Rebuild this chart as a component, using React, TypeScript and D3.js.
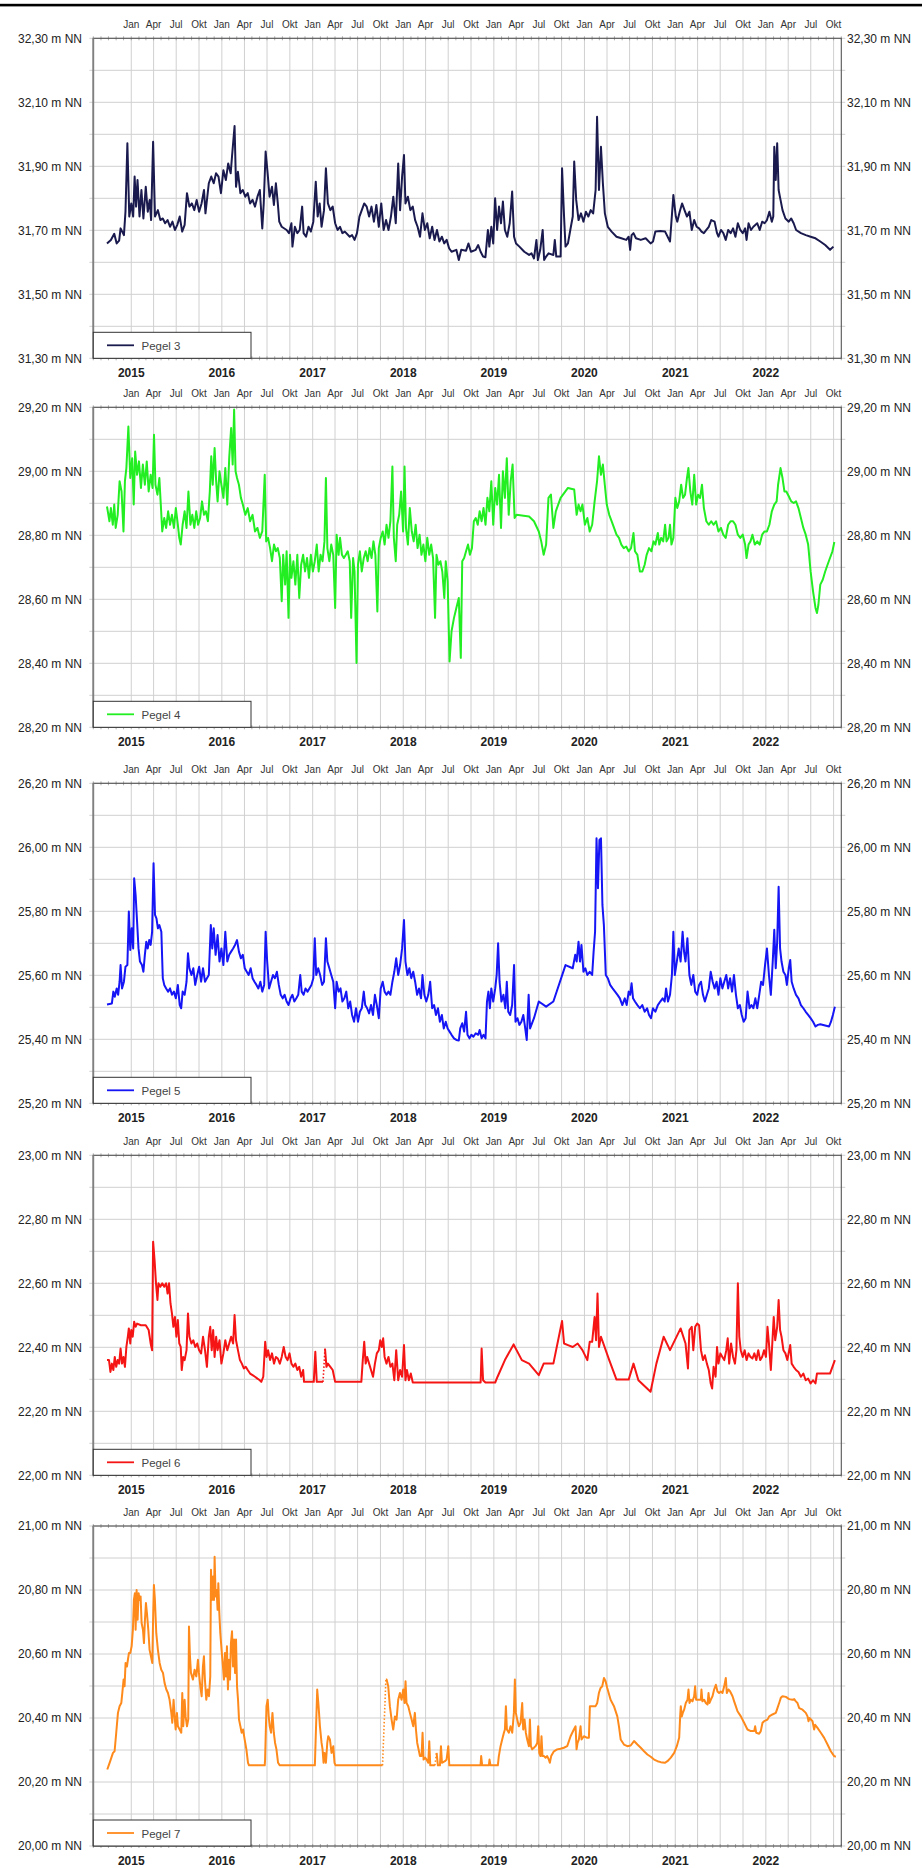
import React from "react";
import * as d3 from "d3";

type Pt = [number, number | null];

// decimal year, water level (m NN)
const pegel3: Pt[] = [[2014.732,31.659],[2014.775,31.670],[2014.812,31.689],[2014.839,31.659],[2014.866,31.668],[2014.882,31.706],[2014.919,31.685],[2014.936,31.758],[2014.957,31.972],[2014.978,31.743],[2015.000,31.784],[2015.021,31.743],[2015.037,31.868],[2015.053,31.774],[2015.069,31.857],[2015.091,31.743],[2015.112,31.826],[2015.134,31.737],[2015.160,31.836],[2015.182,31.758],[2015.203,31.795],[2015.219,31.732],[2015.241,31.977],[2015.262,31.743],[2015.294,31.763],[2015.321,31.732],[2015.348,31.737],[2015.374,31.722],[2015.401,31.732],[2015.428,31.711],[2015.455,31.727],[2015.482,31.701],[2015.508,31.717],[2015.535,31.743],[2015.562,31.696],[2015.589,31.717],[2015.615,31.816],[2015.642,31.774],[2015.669,31.784],[2015.696,31.763],[2015.722,31.795],[2015.749,31.758],[2015.776,31.784],[2015.803,31.826],[2015.819,31.753],[2015.856,31.847],[2015.883,31.868],[2015.910,31.847],[2015.936,31.878],[2015.963,31.868],[2015.990,31.816],[2016.017,31.888],[2016.044,31.857],[2016.070,31.909],[2016.097,31.878],[2016.113,31.935],[2016.140,32.026],[2016.156,31.836],[2016.177,31.883],[2016.204,31.816],[2016.231,31.826],[2016.258,31.805],[2016.285,31.816],[2016.311,31.784],[2016.338,31.795],[2016.365,31.774],[2016.392,31.805],[2016.418,31.826],[2016.445,31.706],[2016.461,31.784],[2016.482,31.946],[2016.504,31.878],[2016.525,31.805],[2016.552,31.836],[2016.573,31.779],[2016.595,31.847],[2016.616,31.784],[2016.632,31.727],[2016.659,31.711],[2016.713,31.701],[2016.739,31.691],[2016.766,31.722],[2016.777,31.649],[2016.804,31.711],[2016.831,31.691],[2016.857,31.701],[2016.884,31.774],[2016.900,31.691],[2016.927,31.680],[2016.954,31.711],[2016.980,31.696],[2017.007,31.727],[2017.034,31.852],[2017.055,31.743],[2017.077,31.784],[2017.098,31.711],[2017.125,31.763],[2017.146,31.894],[2017.168,31.784],[2017.195,31.763],[2017.221,31.774],[2017.248,31.722],[2017.275,31.701],[2017.302,31.711],[2017.328,31.691],[2017.355,31.696],[2017.409,31.680],[2017.435,31.685],[2017.462,31.670],[2017.489,31.691],[2017.516,31.743],[2017.542,31.763],[2017.569,31.784],[2017.596,31.774],[2017.623,31.743],[2017.649,31.774],[2017.676,31.727],[2017.703,31.779],[2017.730,31.711],[2017.757,31.784],[2017.783,31.701],[2017.810,31.732],[2017.837,31.701],[2017.864,31.743],[2017.890,31.805],[2017.917,31.722],[2017.944,31.909],[2017.965,31.763],[2017.987,31.868],[2018.008,31.935],[2018.024,31.784],[2018.051,31.805],[2018.078,31.763],[2018.105,31.774],[2018.131,31.732],[2018.158,31.711],[2018.185,31.680],[2018.212,31.753],[2018.238,31.701],[2018.265,31.722],[2018.292,31.675],[2018.319,31.711],[2018.345,31.670],[2018.372,31.701],[2018.399,31.665],[2018.426,31.680],[2018.452,31.659],[2018.479,31.670],[2018.506,31.644],[2018.533,31.633],[2018.586,31.639],[2018.613,31.607],[2018.640,31.639],[2018.693,31.636],[2018.720,31.659],[2018.747,31.633],[2018.800,31.639],[2018.827,31.654],[2018.854,31.633],[2018.881,31.618],[2018.907,31.616],[2018.934,31.701],[2018.950,31.649],[2018.972,31.711],[2018.993,31.659],[2019.014,31.800],[2019.036,31.701],[2019.057,31.774],[2019.079,31.722],[2019.100,31.790],[2019.122,31.701],[2019.148,31.680],[2019.175,31.722],[2019.202,31.821],[2019.223,31.680],[2019.245,31.659],[2019.282,31.649],[2019.336,31.633],[2019.389,31.623],[2019.416,31.628],[2019.443,31.612],[2019.470,31.670],[2019.486,31.607],[2019.512,31.639],[2019.539,31.701],[2019.555,31.607],[2019.577,31.618],[2019.604,31.628],[2019.657,31.623],[2019.673,31.670],[2019.689,31.618],[2019.737,31.618],[2019.753,31.894],[2019.775,31.743],[2019.791,31.649],[2019.818,31.659],[2019.844,31.701],[2019.871,31.743],[2019.887,31.915],[2019.909,31.795],[2019.935,31.732],[2019.962,31.753],[2019.989,31.727],[2020.016,31.758],[2020.043,31.743],[2020.069,31.763],[2020.096,31.753],[2020.123,31.826],[2020.139,32.055],[2020.160,31.826],[2020.182,31.961],[2020.203,31.847],[2020.225,31.753],[2020.257,31.711],[2020.299,31.696],[2020.353,31.680],[2020.406,31.675],[2020.460,31.670],[2020.487,31.680],[2020.503,31.639],[2020.519,31.685],[2020.540,31.691],[2020.567,31.675],[2020.620,31.670],[2020.674,31.675],[2020.728,31.659],[2020.755,31.665],[2020.781,31.696],[2020.835,31.698],[2020.888,31.696],[2020.942,31.665],[2020.979,31.810],[2021.006,31.743],[2021.022,31.727],[2021.049,31.758],[2021.075,31.784],[2021.102,31.763],[2021.129,31.743],[2021.156,31.758],[2021.182,31.701],[2021.209,31.732],[2021.236,31.711],[2021.263,31.706],[2021.290,31.696],[2021.316,31.691],[2021.343,31.701],[2021.370,31.711],[2021.397,31.732],[2021.434,31.727],[2021.461,31.691],[2021.477,31.680],[2021.504,31.701],[2021.531,31.691],[2021.557,31.670],[2021.584,31.701],[2021.611,31.691],[2021.638,31.706],[2021.664,31.680],[2021.691,31.722],[2021.718,31.701],[2021.745,31.691],[2021.771,31.706],[2021.787,31.670],[2021.809,31.722],[2021.836,31.701],[2021.862,31.711],[2021.905,31.722],[2021.932,31.701],[2021.959,31.727],[2021.986,31.722],[2022.012,31.732],[2022.039,31.758],[2022.066,31.727],[2022.082,31.743],[2022.093,31.961],[2022.109,31.857],[2022.125,31.972],[2022.141,31.826],[2022.162,31.795],[2022.184,31.763],[2022.216,31.737],[2022.253,31.727],[2022.280,31.737],[2022.307,31.722],[2022.334,31.701],[2022.387,31.691],[2022.441,31.685],[2022.494,31.680],[2022.548,31.675],[2022.601,31.665],[2022.655,31.654],[2022.709,31.639],[2022.746,31.649]];

const pegel4: Pt[] = [[2014.732,28.890],[2014.759,28.844],[2014.775,28.885],[2014.796,28.833],[2014.812,28.896],[2014.828,28.823],[2014.850,28.864],[2014.871,28.969],[2014.893,28.937],[2014.914,28.812],[2014.930,28.969],[2014.946,29.010],[2014.968,29.140],[2014.989,28.979],[2015.010,29.041],[2015.027,28.896],[2015.043,29.062],[2015.064,28.989],[2015.085,29.031],[2015.107,28.948],[2015.128,29.021],[2015.150,28.958],[2015.171,29.031],[2015.192,28.937],[2015.214,28.989],[2015.235,28.948],[2015.251,29.114],[2015.267,28.958],[2015.289,28.927],[2015.310,28.979],[2015.326,28.896],[2015.342,28.812],[2015.364,28.854],[2015.385,28.823],[2015.407,28.875],[2015.428,28.833],[2015.449,28.864],[2015.471,28.823],[2015.492,28.885],[2015.514,28.833],[2015.530,28.792],[2015.546,28.771],[2015.567,28.833],[2015.589,28.875],[2015.610,28.823],[2015.631,28.937],[2015.653,28.833],[2015.674,28.864],[2015.696,28.823],[2015.717,28.875],[2015.738,28.833],[2015.760,28.854],[2015.781,28.906],[2015.803,28.864],[2015.824,28.875],[2015.846,28.844],[2015.867,28.937],[2015.883,29.047],[2015.899,28.958],[2015.920,29.073],[2015.937,28.969],[2015.953,28.906],[2015.974,29.000],[2015.995,28.958],[2016.017,28.917],[2016.038,29.010],[2016.060,28.896],[2016.081,29.041],[2016.102,29.135],[2016.119,29.021],[2016.135,29.193],[2016.151,29.000],[2016.167,28.979],[2016.188,28.958],[2016.210,28.917],[2016.231,28.896],[2016.258,28.864],[2016.285,28.885],[2016.311,28.844],[2016.338,28.864],[2016.365,28.812],[2016.392,28.823],[2016.418,28.792],[2016.445,28.812],[2016.472,28.989],[2016.488,28.781],[2016.509,28.792],[2016.531,28.760],[2016.552,28.719],[2016.574,28.771],[2016.595,28.750],[2016.616,28.760],[2016.638,28.729],[2016.659,28.594],[2016.675,28.739],[2016.697,28.646],[2016.713,28.750],[2016.734,28.542],[2016.750,28.739],[2016.766,28.667],[2016.788,28.719],[2016.809,28.646],[2016.831,28.739],[2016.852,28.604],[2016.873,28.708],[2016.895,28.739],[2016.916,28.687],[2016.938,28.729],[2016.959,28.667],[2016.980,28.739],[2017.002,28.687],[2017.023,28.719],[2017.045,28.771],[2017.066,28.687],[2017.087,28.739],[2017.109,28.719],[2017.130,28.781],[2017.146,28.979],[2017.162,28.760],[2017.184,28.719],[2017.205,28.771],[2017.227,28.739],[2017.248,28.573],[2017.264,28.802],[2017.286,28.739],[2017.302,28.792],[2017.323,28.739],[2017.344,28.729],[2017.366,28.739],[2017.387,28.750],[2017.409,28.719],[2017.425,28.542],[2017.446,28.729],[2017.462,28.687],[2017.484,28.401],[2017.500,28.708],[2017.521,28.750],[2017.542,28.687],[2017.564,28.729],[2017.585,28.750],[2017.607,28.719],[2017.628,28.760],[2017.650,28.729],[2017.671,28.781],[2017.692,28.739],[2017.714,28.562],[2017.730,28.760],[2017.751,28.792],[2017.773,28.812],[2017.794,28.771],[2017.815,28.833],[2017.837,28.792],[2017.858,28.844],[2017.880,29.015],[2017.896,28.792],[2017.917,28.719],[2017.933,28.833],[2017.955,28.864],[2017.976,28.937],[2017.998,28.812],[2018.014,29.015],[2018.030,28.823],[2018.051,28.771],[2018.072,28.885],[2018.094,28.812],[2018.115,28.781],[2018.137,28.833],[2018.158,28.760],[2018.180,28.802],[2018.201,28.739],[2018.222,28.771],[2018.244,28.719],[2018.265,28.792],[2018.287,28.739],[2018.308,28.771],[2018.329,28.729],[2018.351,28.542],[2018.367,28.739],[2018.388,28.708],[2018.410,28.719],[2018.431,28.687],[2018.453,28.604],[2018.469,28.719],[2018.490,28.656],[2018.511,28.406],[2018.533,28.500],[2018.560,28.542],[2018.586,28.573],[2018.613,28.604],[2018.635,28.417],[2018.651,28.719],[2018.672,28.729],[2018.693,28.750],[2018.715,28.771],[2018.736,28.739],[2018.758,28.760],[2018.779,28.844],[2018.800,28.854],[2018.822,28.833],[2018.843,28.875],[2018.865,28.844],[2018.886,28.885],[2018.908,28.833],[2018.929,28.917],[2018.950,28.875],[2018.972,28.969],[2018.993,28.833],[2019.015,28.948],[2019.036,28.896],[2019.057,28.989],[2019.079,28.823],[2019.100,29.000],[2019.122,28.917],[2019.143,29.041],[2019.164,28.864],[2019.186,28.969],[2019.207,29.021],[2019.229,28.854],[2019.250,28.864],[2019.309,28.862],[2019.389,28.859],[2019.443,28.844],[2019.496,28.812],[2019.523,28.781],[2019.550,28.739],[2019.577,28.771],[2019.603,28.917],[2019.630,28.927],[2019.657,28.823],[2019.684,28.875],[2019.737,28.917],[2019.818,28.948],[2019.887,28.943],[2019.914,28.864],[2019.935,28.896],[2019.957,28.875],[2019.978,28.896],[2020.005,28.833],[2020.032,28.854],[2020.058,28.812],[2020.085,28.833],[2020.112,28.906],[2020.139,28.969],[2020.160,29.047],[2020.182,28.989],[2020.203,29.021],[2020.224,28.958],[2020.246,28.896],[2020.273,28.864],[2020.299,28.844],[2020.326,28.823],[2020.353,28.802],[2020.380,28.792],[2020.406,28.771],[2020.433,28.760],[2020.460,28.765],[2020.487,28.750],[2020.513,28.760],[2020.540,28.807],[2020.556,28.750],[2020.583,28.739],[2020.610,28.687],[2020.637,28.687],[2020.663,28.708],[2020.685,28.739],[2020.711,28.760],[2020.738,28.750],[2020.760,28.781],[2020.781,28.771],[2020.808,28.807],[2020.824,28.771],[2020.845,28.792],[2020.867,28.781],[2020.888,28.833],[2020.904,28.781],[2020.926,28.792],[2020.942,28.833],[2020.958,28.771],[2020.979,28.792],[2021.001,28.917],[2021.022,28.885],[2021.043,28.906],[2021.065,28.958],[2021.086,28.917],[2021.108,28.927],[2021.129,28.979],[2021.145,29.010],[2021.166,28.937],[2021.188,28.896],[2021.209,28.989],[2021.231,28.896],[2021.252,28.927],[2021.274,28.917],[2021.295,28.958],[2021.316,28.885],[2021.343,28.844],[2021.370,28.833],[2021.397,28.844],[2021.423,28.833],[2021.450,28.844],[2021.477,28.812],[2021.504,28.823],[2021.530,28.802],[2021.557,28.792],[2021.584,28.833],[2021.611,28.844],[2021.638,28.844],[2021.664,28.833],[2021.691,28.802],[2021.718,28.792],[2021.745,28.802],[2021.771,28.771],[2021.787,28.729],[2021.809,28.771],[2021.830,28.781],[2021.852,28.802],[2021.878,28.771],[2021.905,28.781],[2021.932,28.771],[2021.959,28.802],[2021.985,28.812],[2022.012,28.812],[2022.039,28.833],[2022.066,28.875],[2022.093,28.896],[2022.119,28.906],[2022.135,28.958],[2022.162,29.010],[2022.184,28.979],[2022.205,28.937],[2022.226,28.937],[2022.253,28.922],[2022.280,28.906],[2022.307,28.901],[2022.333,28.906],[2022.360,28.885],[2022.387,28.854],[2022.414,28.823],[2022.440,28.802],[2022.467,28.771],[2022.494,28.687],[2022.521,28.625],[2022.548,28.573],[2022.564,28.557],[2022.580,28.583],[2022.601,28.646],[2022.628,28.661],[2022.655,28.687],[2022.681,28.708],[2022.708,28.729],[2022.735,28.750],[2022.756,28.779]];

const pegel5: Pt[] = [[2014.732,25.509],[2014.786,25.512],[2014.802,25.549],[2014.818,25.533],[2014.839,25.559],[2014.855,25.539],[2014.871,25.580],[2014.882,25.632],[2014.898,25.559],[2014.919,25.580],[2014.936,25.627],[2014.957,25.632],[2014.973,25.799],[2014.989,25.679],[2015.005,25.747],[2015.021,25.684],[2015.032,25.903],[2015.048,25.851],[2015.064,25.768],[2015.080,25.684],[2015.096,25.643],[2015.118,25.632],[2015.134,25.611],[2015.150,25.664],[2015.166,25.705],[2015.182,25.684],[2015.198,25.710],[2015.214,25.695],[2015.230,25.736],[2015.246,25.950],[2015.262,25.789],[2015.278,25.778],[2015.294,25.747],[2015.310,25.757],[2015.332,25.736],[2015.348,25.591],[2015.364,25.570],[2015.385,25.559],[2015.407,25.549],[2015.428,25.559],[2015.449,25.539],[2015.471,25.549],[2015.492,25.528],[2015.514,25.570],[2015.535,25.507],[2015.551,25.497],[2015.567,25.549],[2015.589,25.539],[2015.610,25.580],[2015.626,25.669],[2015.642,25.622],[2015.664,25.601],[2015.685,25.622],[2015.706,25.570],[2015.728,25.601],[2015.749,25.627],[2015.771,25.580],[2015.792,25.622],[2015.814,25.580],[2015.835,25.591],[2015.856,25.601],[2015.878,25.757],[2015.894,25.684],[2015.910,25.747],[2015.931,25.664],[2015.953,25.726],[2015.974,25.643],[2015.995,25.684],[2016.017,25.632],[2016.038,25.736],[2016.060,25.643],[2016.081,25.664],[2016.102,25.674],[2016.124,25.684],[2016.145,25.695],[2016.167,25.710],[2016.188,25.674],[2016.210,25.653],[2016.231,25.664],[2016.252,25.622],[2016.274,25.611],[2016.295,25.601],[2016.317,25.622],[2016.338,25.591],[2016.359,25.580],[2016.381,25.570],[2016.402,25.559],[2016.424,25.580],[2016.445,25.549],[2016.466,25.570],[2016.482,25.736],[2016.499,25.643],[2016.520,25.559],[2016.541,25.580],[2016.563,25.601],[2016.584,25.591],[2016.606,25.611],[2016.627,25.570],[2016.648,25.539],[2016.670,25.528],[2016.691,25.539],[2016.713,25.518],[2016.734,25.507],[2016.756,25.528],[2016.777,25.539],[2016.798,25.518],[2016.820,25.528],[2016.841,25.539],[2016.863,25.601],[2016.879,25.549],[2016.900,25.539],[2016.921,25.559],[2016.943,25.549],[2016.964,25.559],[2016.986,25.570],[2017.007,25.591],[2017.023,25.716],[2017.039,25.601],[2017.061,25.622],[2017.082,25.601],[2017.104,25.570],[2017.125,25.580],[2017.146,25.716],[2017.162,25.643],[2017.184,25.622],[2017.205,25.601],[2017.227,25.580],[2017.248,25.497],[2017.264,25.580],[2017.286,25.549],[2017.307,25.559],[2017.328,25.518],[2017.350,25.528],[2017.371,25.549],[2017.393,25.497],[2017.414,25.518],[2017.435,25.476],[2017.457,25.455],[2017.478,25.497],[2017.500,25.455],[2017.521,25.486],[2017.542,25.497],[2017.564,25.549],[2017.580,25.507],[2017.601,25.497],[2017.623,25.481],[2017.644,25.507],[2017.666,25.476],[2017.687,25.539],[2017.708,25.507],[2017.730,25.466],[2017.751,25.559],[2017.773,25.580],[2017.794,25.549],[2017.815,25.539],[2017.837,25.549],[2017.858,25.539],[2017.880,25.580],[2017.901,25.611],[2017.922,25.653],[2017.944,25.601],[2017.965,25.632],[2017.987,25.684],[2018.008,25.773],[2018.024,25.643],[2018.046,25.601],[2018.067,25.622],[2018.088,25.591],[2018.110,25.611],[2018.131,25.580],[2018.153,25.539],[2018.174,25.559],[2018.196,25.528],[2018.212,25.601],[2018.233,25.539],[2018.254,25.518],[2018.276,25.539],[2018.297,25.580],[2018.319,25.497],[2018.340,25.507],[2018.361,25.476],[2018.383,25.497],[2018.404,25.455],[2018.426,25.476],[2018.447,25.434],[2018.469,25.455],[2018.490,25.434],[2018.511,25.424],[2018.533,25.414],[2018.560,25.403],[2018.586,25.398],[2018.613,25.396],[2018.629,25.434],[2018.651,25.450],[2018.672,25.424],[2018.693,25.486],[2018.709,25.414],[2018.731,25.403],[2018.752,25.414],[2018.774,25.408],[2018.800,25.419],[2018.827,25.414],[2018.843,25.429],[2018.865,25.403],[2018.886,25.414],[2018.908,25.403],[2018.924,25.518],[2018.940,25.549],[2018.956,25.497],[2018.972,25.559],[2018.993,25.518],[2019.015,25.559],[2019.031,25.601],[2019.047,25.700],[2019.063,25.580],[2019.084,25.518],[2019.106,25.539],[2019.127,25.497],[2019.143,25.580],[2019.159,25.486],[2019.180,25.476],[2019.202,25.507],[2019.223,25.632],[2019.239,25.455],[2019.261,25.466],[2019.282,25.445],[2019.304,25.455],[2019.325,25.476],[2019.341,25.445],[2019.363,25.398],[2019.384,25.539],[2019.400,25.434],[2019.443,25.466],[2019.496,25.518],[2019.577,25.502],[2019.657,25.518],[2019.791,25.632],[2019.871,25.622],[2019.898,25.664],[2019.914,25.643],[2019.935,25.705],[2019.951,25.643],[2019.967,25.695],[2019.989,25.611],[2020.010,25.622],[2020.032,25.601],[2020.058,25.611],[2020.085,25.601],[2020.101,25.674],[2020.117,25.736],[2020.133,26.028],[2020.149,25.872],[2020.165,26.023],[2020.182,26.028],[2020.198,25.820],[2020.214,25.757],[2020.235,25.601],[2020.257,25.591],[2020.283,25.570],[2020.310,25.559],[2020.337,25.549],[2020.364,25.539],[2020.390,25.528],[2020.417,25.507],[2020.444,25.528],[2020.465,25.507],[2020.487,25.549],[2020.503,25.539],[2020.519,25.575],[2020.535,25.528],[2020.556,25.518],[2020.583,25.507],[2020.610,25.497],[2020.637,25.507],[2020.663,25.486],[2020.690,25.497],[2020.711,25.476],[2020.733,25.466],[2020.754,25.497],[2020.781,25.486],[2020.808,25.507],[2020.835,25.518],[2020.861,25.528],[2020.883,25.518],[2020.899,25.559],[2020.920,25.518],[2020.942,25.539],[2020.963,25.601],[2020.979,25.736],[2020.995,25.601],[2021.017,25.643],[2021.038,25.684],[2021.059,25.643],[2021.081,25.736],[2021.097,25.674],[2021.113,25.643],[2021.134,25.716],[2021.156,25.601],[2021.177,25.570],[2021.199,25.601],[2021.220,25.549],[2021.242,25.539],[2021.263,25.570],[2021.284,25.580],[2021.306,25.539],[2021.327,25.518],[2021.349,25.539],[2021.370,25.559],[2021.391,25.611],[2021.413,25.580],[2021.434,25.559],[2021.456,25.580],[2021.477,25.539],[2021.498,25.591],[2021.520,25.559],[2021.541,25.580],[2021.563,25.601],[2021.584,25.559],[2021.605,25.591],[2021.627,25.549],[2021.648,25.601],[2021.670,25.539],[2021.691,25.497],[2021.713,25.507],[2021.734,25.476],[2021.755,25.455],[2021.777,25.466],[2021.798,25.549],[2021.820,25.497],[2021.841,25.507],[2021.862,25.497],[2021.884,25.528],[2021.905,25.497],[2021.927,25.539],[2021.948,25.580],[2021.969,25.570],[2021.991,25.632],[2022.012,25.684],[2022.034,25.601],[2022.055,25.539],[2022.076,25.643],[2022.093,25.742],[2022.109,25.622],[2022.125,25.705],[2022.141,25.877],[2022.157,25.684],[2022.173,25.643],[2022.194,25.611],[2022.216,25.601],[2022.232,25.570],[2022.253,25.622],[2022.269,25.648],[2022.285,25.580],[2022.307,25.559],[2022.333,25.539],[2022.360,25.528],[2022.387,25.507],[2022.414,25.497],[2022.440,25.486],[2022.467,25.476],[2022.494,25.466],[2022.521,25.455],[2022.548,25.440],[2022.574,25.445],[2022.601,25.447],[2022.655,25.443],[2022.698,25.440],[2022.719,25.455],[2022.740,25.476],[2022.762,25.502]];

const pegel6: Pt[] = [[2014.732,22.360],[2014.754,22.360],[2014.770,22.323],[2014.786,22.349],[2014.802,22.329],[2014.818,22.370],[2014.834,22.339],[2014.850,22.360],[2014.866,22.349],[2014.882,22.396],[2014.898,22.349],[2014.914,22.370],[2014.930,22.339],[2014.946,22.401],[2014.962,22.433],[2014.973,22.459],[2014.989,22.412],[2015.000,22.454],[2015.016,22.433],[2015.032,22.480],[2015.048,22.464],[2015.064,22.474],[2015.107,22.469],[2015.160,22.469],[2015.192,22.454],[2015.214,22.412],[2015.230,22.391],[2015.241,22.730],[2015.257,22.673],[2015.273,22.600],[2015.289,22.548],[2015.300,22.600],[2015.321,22.589],[2015.342,22.600],[2015.364,22.589],[2015.385,22.600],[2015.401,22.568],[2015.417,22.600],[2015.433,22.537],[2015.449,22.506],[2015.465,22.464],[2015.482,22.495],[2015.498,22.433],[2015.514,22.485],[2015.530,22.412],[2015.546,22.401],[2015.557,22.329],[2015.573,22.370],[2015.589,22.360],[2015.610,22.391],[2015.626,22.506],[2015.642,22.433],[2015.664,22.412],[2015.685,22.422],[2015.706,22.401],[2015.728,22.412],[2015.749,22.391],[2015.771,22.381],[2015.792,22.433],[2015.814,22.391],[2015.835,22.339],[2015.856,22.433],[2015.872,22.464],[2015.888,22.391],[2015.904,22.454],[2015.920,22.370],[2015.937,22.433],[2015.953,22.391],[2015.974,22.422],[2015.995,22.349],[2016.017,22.381],[2016.038,22.422],[2016.060,22.391],[2016.081,22.412],[2016.102,22.433],[2016.124,22.412],[2016.140,22.501],[2016.156,22.422],[2016.177,22.391],[2016.199,22.360],[2016.220,22.349],[2016.242,22.334],[2016.263,22.339],[2016.285,22.329],[2016.311,22.318],[2016.338,22.313],[2016.365,22.308],[2016.392,22.302],[2016.418,22.297],[2016.434,22.292],[2016.456,22.308],[2016.477,22.417],[2016.493,22.370],[2016.509,22.391],[2016.531,22.360],[2016.552,22.381],[2016.574,22.349],[2016.595,22.370],[2016.616,22.365],[2016.638,22.349],[2016.659,22.370],[2016.681,22.401],[2016.702,22.370],[2016.724,22.360],[2016.745,22.381],[2016.766,22.349],[2016.788,22.339],[2016.809,22.349],[2016.831,22.329],[2016.852,22.339],[2016.873,22.308],[2016.895,22.329],[2016.905,22.292],[2017.012,22.292],[2017.029,22.386],[2017.045,22.292],[2017.114,22.292],[2017.125,null],[2017.136,22.396],[2017.152,22.339],[2017.168,22.349],[2017.195,22.339],[2017.221,22.329],[2017.248,22.292],[2017.537,22.292],[2017.553,22.360],[2017.569,22.417],[2017.585,22.349],[2017.601,22.370],[2017.623,22.349],[2017.644,22.329],[2017.666,22.308],[2017.687,22.349],[2017.708,22.381],[2017.730,22.391],[2017.746,22.422],[2017.762,22.401],[2017.778,22.428],[2017.794,22.370],[2017.815,22.349],[2017.837,22.370],[2017.858,22.339],[2017.880,22.349],[2017.901,22.297],[2017.922,22.391],[2017.944,22.297],[2017.965,22.329],[2017.987,22.308],[2018.008,22.407],[2018.024,22.297],[2018.040,22.329],[2018.062,22.297],[2018.083,22.318],[2018.105,22.290],[2018.854,22.290],[2018.865,22.396],[2018.881,22.297],[2018.907,22.290],[2019.015,22.290],[2019.041,22.308],[2019.122,22.360],[2019.218,22.409],[2019.309,22.360],[2019.389,22.349],[2019.496,22.313],[2019.550,22.349],[2019.657,22.349],[2019.753,22.482],[2019.775,22.412],[2019.818,22.407],[2019.871,22.401],[2019.925,22.412],[2019.978,22.391],[2020.032,22.360],[2020.058,22.417],[2020.085,22.417],[2020.112,22.495],[2020.128,22.422],[2020.144,22.568],[2020.160,22.401],[2020.182,22.433],[2020.273,22.360],[2020.353,22.299],[2020.487,22.299],[2020.540,22.349],[2020.594,22.297],[2020.728,22.261],[2020.792,22.349],[2020.872,22.433],[2020.942,22.391],[2021.059,22.459],[2021.113,22.412],[2021.140,22.334],[2021.156,22.454],[2021.182,22.464],[2021.199,22.391],[2021.220,22.464],[2021.242,22.474],[2021.263,22.469],[2021.284,22.391],[2021.306,22.360],[2021.327,22.375],[2021.349,22.349],[2021.370,22.329],[2021.391,22.287],[2021.407,22.271],[2021.423,22.339],[2021.445,22.308],[2021.461,22.401],[2021.477,22.349],[2021.498,22.381],[2021.520,22.370],[2021.541,22.360],[2021.563,22.391],[2021.579,22.428],[2021.595,22.349],[2021.616,22.412],[2021.638,22.370],[2021.659,22.349],[2021.675,22.391],[2021.691,22.600],[2021.707,22.433],[2021.723,22.391],[2021.745,22.370],[2021.766,22.391],[2021.787,22.360],[2021.809,22.381],[2021.830,22.370],[2021.852,22.365],[2021.873,22.381],[2021.895,22.360],[2021.916,22.391],[2021.937,22.360],[2021.959,22.370],[2021.980,22.391],[2022.001,22.370],[2022.018,22.464],[2022.034,22.412],[2022.055,22.329],[2022.071,22.412],[2022.087,22.495],[2022.103,22.422],[2022.125,22.464],[2022.141,22.548],[2022.157,22.454],[2022.173,22.433],[2022.194,22.391],[2022.216,22.381],[2022.237,22.360],[2022.258,22.391],[2022.269,22.407],[2022.285,22.349],[2022.307,22.339],[2022.333,22.329],[2022.360,22.323],[2022.387,22.308],[2022.414,22.318],[2022.440,22.297],[2022.467,22.302],[2022.494,22.287],[2022.521,22.297],[2022.548,22.287],[2022.564,22.318],[2022.708,22.318],[2022.762,22.360]];

const pegel7: Pt[] = [[2014.735,20.239],[2014.761,20.260],[2014.798,20.291],[2014.816,20.296],[2014.834,20.354],[2014.853,20.416],[2014.871,20.437],[2014.890,20.447],[2014.901,20.478],[2014.915,20.520],[2014.926,20.499],[2014.937,20.572],[2014.952,20.561],[2014.963,20.582],[2014.974,20.603],[2014.989,20.603],[2015.004,20.624],[2015.018,20.676],[2015.029,20.769],[2015.040,20.790],[2015.048,20.676],[2015.059,20.800],[2015.070,20.707],[2015.081,20.790],[2015.092,20.769],[2015.103,20.780],[2015.114,20.697],[2015.129,20.676],[2015.140,20.634],[2015.151,20.707],[2015.162,20.759],[2015.173,20.728],[2015.188,20.676],[2015.202,20.613],[2015.217,20.593],[2015.232,20.572],[2015.243,20.738],[2015.250,20.816],[2015.261,20.769],[2015.276,20.665],[2015.294,20.613],[2015.313,20.572],[2015.331,20.551],[2015.350,20.541],[2015.368,20.509],[2015.387,20.489],[2015.405,20.478],[2015.423,20.457],[2015.442,20.416],[2015.453,20.385],[2015.467,20.457],[2015.479,20.405],[2015.490,20.364],[2015.504,20.416],[2015.515,20.374],[2015.534,20.364],[2015.552,20.354],[2015.563,20.478],[2015.574,20.374],[2015.589,20.457],[2015.600,20.405],[2015.615,20.374],[2015.629,20.395],[2015.637,20.686],[2015.648,20.593],[2015.659,20.541],[2015.681,20.520],[2015.699,20.551],[2015.718,20.530],[2015.736,20.582],[2015.747,20.541],[2015.762,20.499],[2015.777,20.468],[2015.791,20.561],[2015.802,20.593],[2015.813,20.520],[2015.828,20.457],[2015.843,20.489],[2015.858,20.468],[2015.872,20.530],[2015.880,20.863],[2015.891,20.769],[2015.902,20.842],[2015.913,20.769],[2015.920,20.904],[2015.931,20.780],[2015.942,20.800],[2015.953,20.738],[2015.961,20.821],[2015.972,20.728],[2015.983,20.665],[2015.997,20.613],[2016.012,20.561],[2016.023,20.520],[2016.034,20.603],[2016.045,20.530],[2016.056,20.624],[2016.067,20.489],[2016.078,20.582],[2016.089,20.520],[2016.100,20.634],[2016.112,20.671],[2016.123,20.561],[2016.134,20.645],[2016.145,20.541],[2016.156,20.645],[2016.167,20.499],[2016.178,20.457],[2016.189,20.395],[2016.204,20.374],[2016.218,20.354],[2016.233,20.364],[2016.251,20.333],[2016.270,20.302],[2016.288,20.260],[2016.299,20.252],[2016.472,20.252],[2016.476,20.270],[2016.491,20.437],[2016.505,20.457],[2016.516,20.405],[2016.527,20.374],[2016.542,20.354],[2016.557,20.416],[2016.572,20.354],[2016.586,20.322],[2016.601,20.302],[2016.619,20.260],[2016.638,20.252],[2017.024,20.252],[2017.035,20.354],[2017.050,20.489],[2017.065,20.437],[2017.080,20.374],[2017.098,20.322],[2017.109,20.302],[2017.120,20.260],[2017.131,20.291],[2017.146,20.260],[2017.161,20.322],[2017.172,20.343],[2017.190,20.333],[2017.208,20.291],[2017.227,20.312],[2017.241,20.260],[2017.253,20.252],[2017.771,20.252],[2017.790,null],[2017.808,20.520],[2017.816,20.520],[2017.834,20.499],[2017.852,20.437],[2017.871,20.395],[2017.889,20.364],[2017.908,20.405],[2017.926,20.395],[2017.944,20.457],[2017.963,20.478],[2017.981,20.457],[2018.000,20.489],[2018.014,20.447],[2018.025,20.515],[2018.036,20.447],[2018.055,20.437],[2018.073,20.416],[2018.092,20.395],[2018.110,20.374],[2018.128,20.416],[2018.140,20.364],[2018.154,20.322],[2018.169,20.302],[2018.184,20.281],[2018.202,20.281],[2018.213,20.354],[2018.224,20.270],[2018.243,20.276],[2018.257,20.270],[2018.276,20.260],[2018.287,20.327],[2018.298,20.252],[2018.349,20.252],[2018.358,null],[2018.368,20.291],[2018.382,20.252],[2018.405,20.252],[2018.416,20.312],[2018.427,20.260],[2018.460,20.265],[2018.478,20.270],[2018.497,20.312],[2018.508,20.252],[2018.853,20.252],[2018.860,20.281],[2018.871,20.252],[2018.945,20.252],[2018.952,20.270],[2018.963,20.252],[2019.044,20.252],[2019.055,20.281],[2019.074,20.312],[2019.092,20.333],[2019.111,20.354],[2019.122,20.364],[2019.133,20.437],[2019.144,20.364],[2019.166,20.354],[2019.184,20.374],[2019.203,20.354],[2019.221,20.416],[2019.232,20.520],[2019.243,20.416],[2019.258,20.395],[2019.276,20.374],[2019.295,20.385],[2019.313,20.447],[2019.324,20.364],[2019.339,20.395],[2019.353,20.354],[2019.368,20.333],[2019.387,20.312],[2019.398,20.395],[2019.409,20.312],[2019.423,20.302],[2019.442,20.307],[2019.460,20.312],[2019.479,20.322],[2019.490,20.374],[2019.501,20.291],[2019.515,20.281],[2019.526,20.343],[2019.537,20.281],[2019.552,20.281],[2019.571,20.276],[2019.589,20.281],[2019.607,20.270],[2019.618,20.260],[2019.633,20.281],[2019.663,20.296],[2019.699,20.302],[2019.736,20.304],[2019.773,20.307],[2019.810,20.312],[2019.847,20.343],[2019.883,20.364],[2019.902,20.374],[2019.913,20.302],[2019.924,20.322],[2019.939,20.333],[2019.957,20.374],[2019.968,20.333],[2019.994,20.343],[2020.031,20.338],[2020.049,20.338],[2020.060,20.437],[2020.123,20.437],[2020.141,20.447],[2020.159,20.478],[2020.178,20.494],[2020.196,20.499],[2020.215,20.525],[2020.233,20.515],[2020.251,20.494],[2020.288,20.457],[2020.325,20.437],[2020.362,20.405],[2020.380,20.374],[2020.399,20.333],[2020.435,20.317],[2020.472,20.312],[2020.509,20.314],[2020.546,20.328],[2020.583,20.317],[2020.620,20.307],[2020.656,20.296],[2020.693,20.286],[2020.730,20.279],[2020.767,20.270],[2020.804,20.265],[2020.840,20.262],[2020.885,20.260],[2020.914,20.265],[2020.951,20.276],[2020.988,20.291],[2021.017,20.312],[2021.043,20.338],[2021.054,20.405],[2021.061,20.437],[2021.072,20.405],[2021.083,20.416],[2021.098,20.426],[2021.116,20.447],[2021.135,20.457],[2021.146,20.489],[2021.157,20.447],[2021.172,20.457],[2021.190,20.452],[2021.208,20.468],[2021.219,20.499],[2021.230,20.457],[2021.264,20.457],[2021.282,20.457],[2021.289,20.489],[2021.300,20.452],[2021.319,20.457],[2021.337,20.447],[2021.356,20.442],[2021.367,20.478],[2021.378,20.447],[2021.392,20.457],[2021.411,20.468],[2021.429,20.489],[2021.448,20.504],[2021.466,20.483],[2021.484,20.478],[2021.503,20.483],[2021.521,20.478],[2021.540,20.499],[2021.558,20.525],[2021.569,20.478],[2021.587,20.489],[2021.606,20.483],[2021.632,20.468],[2021.650,20.452],[2021.668,20.437],[2021.687,20.421],[2021.724,20.405],[2021.760,20.385],[2021.797,20.364],[2021.834,20.359],[2021.871,20.359],[2021.882,20.374],[2021.893,20.354],[2021.926,20.351],[2021.944,20.359],[2021.963,20.385],[2021.981,20.390],[2022.018,20.395],[2022.037,20.405],[2022.073,20.411],[2022.110,20.416],[2022.128,20.431],[2022.147,20.447],[2022.165,20.463],[2022.184,20.468],[2022.221,20.466],[2022.257,20.459],[2022.294,20.457],[2022.313,20.459],[2022.331,20.452],[2022.349,20.447],[2022.368,20.431],[2022.405,20.426],[2022.441,20.416],[2022.460,20.405],[2022.471,20.390],[2022.482,20.400],[2022.515,20.390],[2022.533,20.364],[2022.544,20.379],[2022.570,20.369],[2022.607,20.354],[2022.644,20.338],[2022.681,20.317],[2022.717,20.296],[2022.754,20.281],[2022.773,20.279]];

const seriesData: Pt[][] = [pegel3, pegel4, pegel5, pegel6, pegel7];
const seriesNames = ["Pegel 3", "Pegel 4", "Pegel 5", "Pegel 6", "Pegel 7"];
const seriesColors = ["#1a1a4e", "#22ee22", "#1515f5", "#f51515", "#ff8a1c"];
const yMins = [31.3, 28.2, 25.2, 22.0, 20.0];
const yMaxs = [32.3, 29.2, 26.2, 23.0, 21.0];
const monthLabels = ["Jan", "Apr", "Jul", "Okt"];
const yearLabels = [2015, 2016, 2017, 2018, 2019, 2020, 2021, 2022];

const W = 922;
const H = 1868;
const LEFT = 93.3;
const RIGHT = 841.3;
const PANEL_TOPS = [38.3, 407.3, 783.3, 1155.3, 1526];
const PANEL_H = 320;
const FONT = "'Liberation Sans', Arial, Helvetica, sans-serif";

function toDate(y: number): Date {
  const yr = Math.floor(y);
  const s = new Date(yr, 0, 1).getTime();
  const e = new Date(yr + 1, 0, 1).getTime();
  return new Date(s + (y - yr) * (e - s));
}

const x = d3.scaleTime().domain([new Date(2014, 7, 1), new Date(2022, 10, 1)]).range([LEFT, RIGHT]);
const quarters = d3.timeMonth.every(3)!.range(new Date(2015, 0, 1), new Date(2022, 10, 1));
const months = d3.timeMonth.range(new Date(2014, 7, 1), new Date(2022, 10, 2));

function fmt(v: number) {
  return v.toFixed(2).replace(".", ",") + " m NN";
}

function Panel({ idx }: { idx: number }) {
  const top = PANEL_TOPS[idx];
  const bottom = top + PANEL_H;
  const y = d3.scaleLinear().domain([yMins[idx], yMaxs[idx]]).range([bottom, top]);
  const grid = d3.range(0, 11).map((i) => yMins[idx] + i * 0.1);
  const labels = d3.range(0, 6).map((i) => yMins[idx] + i * 0.2);
  const data = seriesData[idx];
  const line = d3
    .line<Pt>()
    .defined((d) => d[1] != null)
    .x((d) => x(toDate(d[0])))
    .y((d) => y(d[1] as number));
  const gaps: [Pt, Pt][] = [];
  data.forEach((d, i) => {
    if (d[1] == null && i > 0 && i < data.length - 1) gaps.push([data[i - 1], data[i + 1]]);
  });
  const clipId = "clip" + idx;
  return (
    <g>
      <defs>
        <clipPath id={clipId}>
          <rect x={LEFT} y={top} width={RIGHT - LEFT} height={PANEL_H} />
        </clipPath>
      </defs>
      {grid.map((v, i) => (
        <line key={"h" + i} x1={LEFT - 4} x2={RIGHT + 4} y1={y(v)} y2={y(v)} stroke="#d0d0d0" strokeWidth={1} />
      ))}
      {quarters.map((q, i) => (
        <line key={"v" + i} x1={x(q)} x2={x(q)} y1={top} y2={bottom} stroke="#d0d0d0" strokeWidth={1} />
      ))}
      {months.map((m, i) => (
        <g key={"m" + i}>
          <line x1={x(m)} x2={x(m)} y1={top - 2} y2={top + 2} stroke="#999" strokeWidth={0.8} />
          <line x1={x(m)} x2={x(m)} y1={bottom - 2} y2={bottom + 2} stroke="#999" strokeWidth={0.8} />
        </g>
      ))}
      {quarters.map((q, i) => (
        <text key={"ml" + i} x={x(q)} y={top - 10} textAnchor="middle" fontSize={10} fill="#333" fontFamily={FONT}>
          {monthLabels[Math.floor(q.getMonth() / 3)]}
        </text>
      ))}
      {yearLabels.map((yr) => (
        <text key={"y" + yr} x={x(new Date(yr, 0, 1))} y={bottom + 19} textAnchor="middle" fontSize={12} fontWeight="bold" fill="#222" fontFamily={FONT}>
          {yr}
        </text>
      ))}
      {labels.map((v, i) => (
        <g key={"l" + i}>
          <text x={82} y={y(v) + 4.3} textAnchor="end" fontSize={12} fill="#222" fontFamily={FONT}>
            {fmt(v)}
          </text>
          <text x={847} y={y(v) + 4.3} textAnchor="start" fontSize={12} fill="#222" fontFamily={FONT}>
            {fmt(v)}
          </text>
        </g>
      ))}
      <g clipPath={`url(#${clipId})`}>
        <path d={line(data) || ""} fill="none" stroke={seriesColors[idx]} strokeWidth={2} strokeLinejoin="round" />
        {gaps.map(([a, b], i) => (
          <line
            key={"g" + i}
            x1={x(toDate(a[0]))}
            y1={y(a[1] as number)}
            x2={x(toDate(b[0]))}
            y2={y(b[1] as number)}
            stroke={seriesColors[idx]}
            strokeWidth={1.6}
            strokeDasharray="1.5,2"
          />
        ))}
      </g>
      <rect x={LEFT} y={top} width={RIGHT - LEFT} height={PANEL_H} fill="none" stroke="#555" strokeWidth={1.1} />
      <line x1={LEFT} x2={LEFT} y1={top} y2={bottom} stroke="#808080" strokeWidth={1.8} />
      <rect x={LEFT} y={bottom - 26} width={251 - LEFT} height={26} fill="#fff" stroke="#333" strokeWidth={1} />
      <line x1={107} x2={134} y1={bottom - 13} y2={bottom - 13} stroke={seriesColors[idx]} strokeWidth={1.8} />
      <text x={141.5} y={bottom - 8.5} fontSize={11.5} fill="#444" fontFamily={FONT}>
        {seriesNames[idx]}
      </text>
    </g>
  );
}

export default function App() {
  return (
    <svg
      width={W}
      height={H}
      viewBox={`0 0 ${W} ${H}`}
      style={{ position: "absolute", left: 0, top: 0, display: "block", background: "#fff" }}
    >
      <rect x={0} y={0} width={W} height={H} fill="#fff" />
      <rect x={0} y={3.8} width={W} height={2.6} fill="#000" />
      {seriesNames.map((_, i) => (
        <Panel key={i} idx={i} />
      ))}
    </svg>
  );
}
